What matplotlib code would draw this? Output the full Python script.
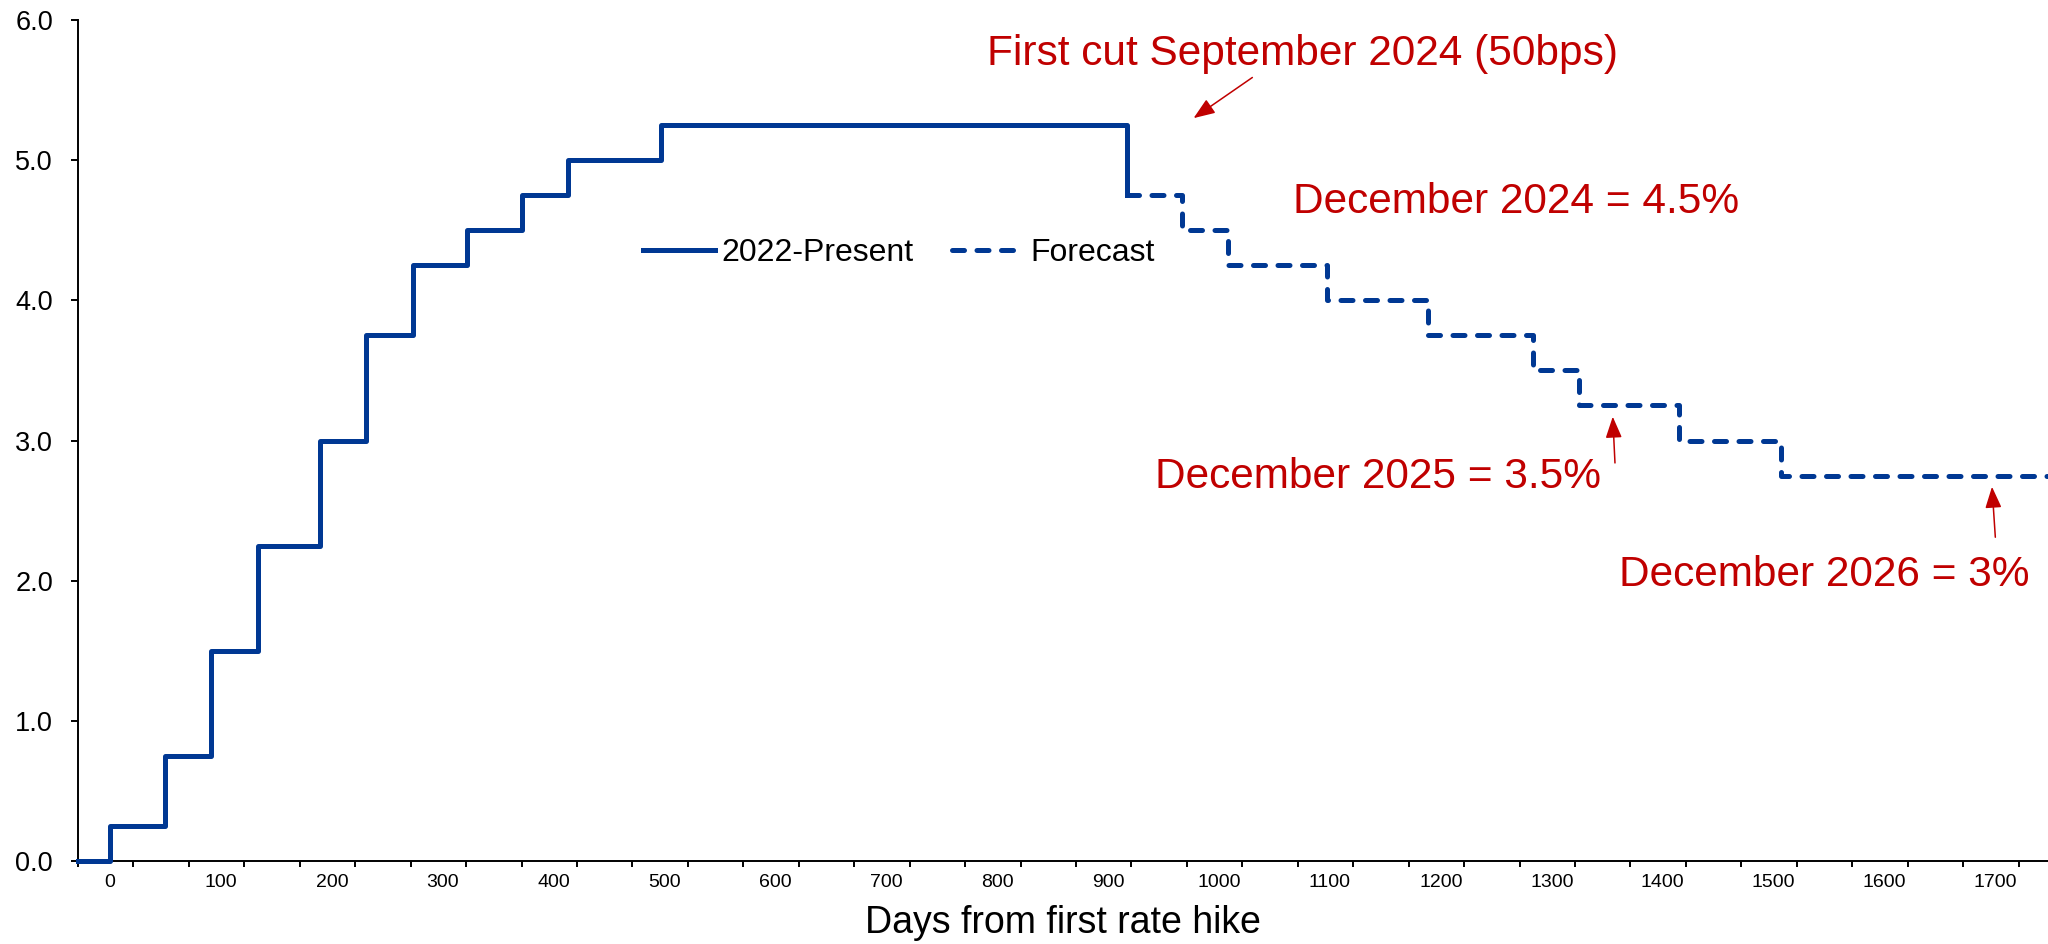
import matplotlib
matplotlib.use("Agg")
import matplotlib.pyplot as plt

plt.rcParams["font.family"] = ["Liberation Sans", "DejaVu Sans"]

# fed funds path, days counted from the first hike
actual_days = [-29, 0, 49, 91, 133, 189, 231, 273, 322, 371, 413, 497, 917]
actual_rate = [0.0, 0.25, 0.75, 1.5, 2.25, 3.0, 3.75, 4.25, 4.5, 4.75, 5.0, 5.25, 4.75]

forecast_days = [917, 967, 1008, 1097, 1188, 1283, 1325, 1415, 1507, 1752]
forecast_rate = [4.75, 4.5, 4.25, 4.0, 3.75, 3.5, 3.25, 3.0, 2.75, 2.75]

x_labels = list(range(0, 1800, 100))
y_ticks = [0.0, 1.0, 2.0, 3.0, 4.0, 5.0, 6.0]

# (text, x, y)
notes = [
    ("First cut September 2024 (50bps)", 1075, 5.68),
    ("December 2024 = 4.5%", 1268, 4.62),
    ("December 2025 = 3.5%", 1143, 2.66),
    ("December 2026 = 3%", 1546, 1.96),
]
# (tail x, tail y, tip x, tip y)
arrows = [
    (1030, 5.59, 977, 5.30),
    (1357, 2.84, 1355, 3.17),
    (1700, 2.31, 1697, 2.67),
]

blue = "#003893"
red = "#C00000"

fig = plt.figure(figsize=(20.48, 9.44), dpi=100)
ax = fig.add_axes([0.0381, 0.0879, 0.9619, 0.8909])

ax.plot(actual_days, actual_rate, drawstyle="steps-post", color=blue,
        linewidth=3.6, label="2022-Present", clip_on=False, zorder=3)
ax.plot(forecast_days, forecast_rate, drawstyle="steps-post", color=blue,
        linewidth=3.6, linestyle=(0, (2.4, 2.5)), dash_capstyle="round",
        label="Forecast", zorder=3)

ax.set_xlim(-29, 1747.5)
ax.set_ylim(0, 6)

for side in ["top", "right"]:
    ax.spines[side].set_visible(False)
for side in ["left", "bottom"]:
    ax.spines[side].set_linewidth(1.4)

# labels sit between the tick marks, like an excel category axis
ax.set_xticks(x_labels)
ax.set_xticklabels([str(v) for v in x_labels])
ax.set_xticks(list(range(-29, 1750, 50)), minor=True)
ax.tick_params(axis="x", which="major", length=0, pad=9.5, labelsize=14)
ax.tick_params(axis="x", which="minor", direction="out", length=4.5, width=1.4)

ax.set_yticks(y_ticks)
ax.set_yticklabels(["%.1f" % v for v in y_ticks])
ax.tick_params(axis="y", direction="out", length=5, width=1.4, pad=13,
               labelsize=19.5)

ax.set_xlabel("Days from first rate hike", fontsize=27)
ax.xaxis.set_label_coords(0.5, -0.074)
ax.xaxis.label.set_va("center")

leg = ax.legend(loc="center left", bbox_to_anchor=(0.287, 0.723), ncol=2,
                frameon=False, fontsize=23, handlelength=2.25,
                handletextpad=0.2, columnspacing=1.2, borderpad=0,
                borderaxespad=0)

for text, x, y in notes:
    ax.text(x, y, text, color=red, fontsize=30.5, ha="center", va="baseline")

for x0, y0, x1, y1 in arrows:
    ax.annotate("", xy=(x1, y1), xytext=(x0, y0),
                arrowprops=dict(arrowstyle="-|>,head_length=1.3,head_width=0.5",
                                mutation_scale=10, color=red, lw=1.1,
                                shrinkA=0, shrinkB=0))

fig.savefig("out.png", dpi=100)
